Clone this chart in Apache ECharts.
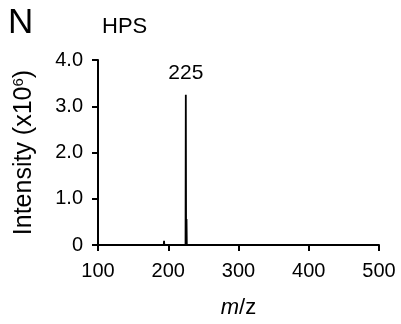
<!DOCTYPE html>
<html><head><meta charset="utf-8">
<script src="https://cdn.jsdelivr.net/npm/echarts@6/dist/echarts.min.js"></script>
<style>html,body{margin:0;padding:0;background:#fff}#c{width:401px;height:324px}</style>
</head><body><div id="c"></div>
<script>
// peaks: m/z and intensity (x10^6)
var peakMz = [140, 194, 210, 225, 226, 292];
var peakIntensity = [0.02, 0.09, 0.02, 3.25, 0.56, 0.03];
var labelledPeaks = [225];
var yTicks = ['0', '1.0', '2.0', '3.0', '4.0'];
var xRange = [100, 500];

var lineData = [[xRange[0], 0]];
peakMz.forEach(function (mz, i) {
  lineData.push([mz - 0.4, 0]);
  lineData.push([mz, peakIntensity[i]]);
  lineData.push([mz + 0.4, 0]);
});
lineData.push([xRange[1], 0]);
var labelData = labelledPeaks.map(function (mz) {
  return [mz, peakIntensity[peakMz.indexOf(mz)]];
});

var chart = echarts.init(document.getElementById('c'));
var font = 'Liberation Sans';
chart.setOption({
  animation: false,
  textStyle: {fontFamily: font},
  title: [
    {text: 'N', left: 3, top: 1, textStyle: {fontSize: 35, fontWeight: 'normal', color: '#000', fontFamily: font}},
    {text: 'HPS', left: 97, top: 11, textStyle: {fontSize: 22, fontWeight: 'normal', color: '#000', fontFamily: font}}
  ],
  grid: {left: 98, right: 22, top: 60, bottom: 78},
  xAxis: {
    type: 'value', min: 100, max: 500, interval: 100,
    axisLine: {lineStyle: {color: '#000', width: 2}},
    axisTick: {show: true, length: 6, lineStyle: {color: '#000', width: 2}},
    axisLabel: {color: '#000', fontSize: 20, margin: 16, fontFamily: font},
    splitLine: {show: false},
    name: '{i|m}{n|/z}', nameLocation: 'middle', nameGap: 52,
    nameTextStyle: {rich: {
      i: {fontStyle: 'italic', fontSize: 22, color: '#000', fontFamily: font},
      n: {fontSize: 22, color: '#000', fontFamily: font}
    }}
  },
  yAxis: {
    type: 'value', min: 0, max: 4, interval: 1,
    axisLine: {show: true, lineStyle: {color: '#000', width: 2}},
    axisTick: {show: true, length: 6, lineStyle: {color: '#000', width: 2}},
    axisLabel: {color: '#000', fontSize: 20, margin: 15, fontFamily: font,
      formatter: function (v) { return yTicks[Math.round(v)]; }},
    splitLine: {show: false},
    name: '{a|Intensity (x10}{s|6}{a|)}', nameLocation: 'middle', nameGap: 61, nameRotate: 90,
    nameTextStyle: {rich: {
      a: {fontSize: 25, color: '#000', fontFamily: font},
      s: {fontSize: 15, color: '#000', fontFamily: font, verticalAlign: 'top', padding: [0, 0, 11, 0]}
    }}
  },
  series: [{
    type: 'line', data: lineData, showSymbol: false, symbol: 'none',
    lineStyle: {color: '#000', width: 1.8}
  }, {
    type: 'scatter', data: labelData, symbolSize: 0, itemStyle: {color: '#000', opacity: 1},
    label: {show: true, position: 'top', distance: 11, color: '#000', opacity: 1, fontSize: 21, fontFamily: font,
      formatter: function (p) { return String(p.value[0]); }}
  }]
});
</script></body></html>
